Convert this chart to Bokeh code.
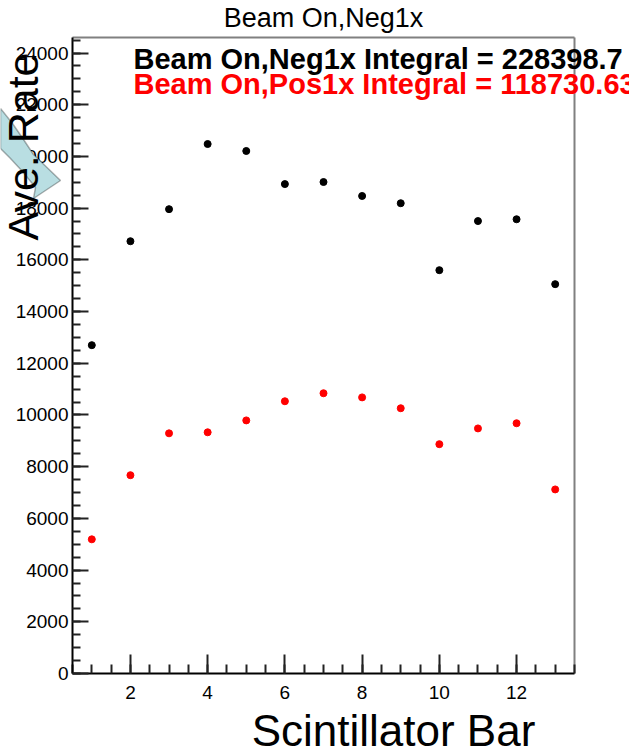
import math
from bokeh.plotting import figure
from bokeh.models import Range1d, FixedTicker, Label, PolyAnnotation
from bokeh.embed import file_html
from bokeh.resources import INLINE

# ---- data ----
bars = list(range(1, 14))
neg1x = [12700, 16720, 17960, 20480, 20210, 18930, 19010, 18470, 18190, 15600, 17500, 17570, 15060]
pos1x = [5190, 7670, 9290, 9330, 9790, 10530, 10840, 10680, 10260, 8870, 9480, 9680, 7120]
title_text = "Beam On,Neg1x"
neg_label = "Beam On,Neg1x Integral = 228398.7"
pos_label = "Beam On,Pos1x Integral = 118730.63"
x_title = "Scintillator Bar"
y_title = "Ave. Rate"
x_ticks = [2, 4, 6, 8, 10, 12]
x_minor = [0.5 * i for i in range(1, 28)]
y_ticks = list(range(0, 24001, 2000))
y_minor = list(range(0, 24601, 500))

# ---- layout: axes box inside the canvas ----
W, H = 629, 755
L, R, T, B = 72, 55, 37, 82          # pixel margins of the axes box
ax_x0, ax_x1 = 0.5, 13.5             # axes box limits (data)
ax_y0, ax_y1 = 0, 24600

sx = (ax_x1 - ax_x0) / (W - L - R)   # data units per pixel
sy = (ax_y1 - ax_y0) / (H - T - B)
xs0, xs1 = ax_x0 - L * sx, ax_x1 + R * sx
ys0, ys1 = ax_y0 - B * sy, ax_y1 + T * sy

def fx(px):
    return xs0 + px * sx

def fy(py):
    return ys1 - py * sy

SHIFT = 0.4  # baseline correction, in em

FONT = "Liberation Sans"

p = figure(width=W, height=H, x_range=Range1d(xs0, xs1), y_range=Range1d(ys0, ys1),
           output_backend="svg", toolbar_location=None,
           min_border_left=0, min_border_right=0, min_border_top=0, min_border_bottom=0)
p.background_fill_color = "white"
p.border_fill_color = "white"
p.outline_line_color = None
p.xgrid.visible = False
p.ygrid.visible = False

for ax in (p.xaxis[0], p.yaxis[0]):
    ax.axis_line_color = "black"
    ax.axis_line_width = 2
    ax.major_tick_line_color = "#222222"
    ax.minor_tick_line_color = "#222222"
    ax.major_tick_line_width = 2
    ax.minor_tick_line_width = 2
    ax.major_tick_out = 0
    ax.minor_tick_out = 0
    ax.major_label_text_font = FONT
    ax.major_label_text_font_size = "19px"
    ax.major_label_text_color = "black"

p.xaxis.fixed_location = ax_y0
p.xaxis.bounds = (ax_x0, ax_x1)
p.xaxis.ticker = FixedTicker(ticks=x_ticks, minor_ticks=x_minor)
p.xaxis.major_tick_in = 19
p.xaxis.minor_tick_in = 9
p.xaxis.major_label_standoff = 12

p.yaxis.fixed_location = ax_x0
p.yaxis.bounds = (ax_y0, ax_y1)
p.yaxis.ticker = FixedTicker(ticks=y_ticks, minor_ticks=y_minor)
p.yaxis.major_tick_in = 16
p.yaxis.minor_tick_in = 8
p.yaxis.major_label_standoff = 4

# top and right edges of the axes box
p.segment(x0=[ax_x0, ax_x1], y0=[ax_y1, ax_y0], x1=[ax_x1, ax_x1], y1=[ax_y1, ax_y1],
          line_color="#808080", line_width=2)

p.scatter(bars, neg1x, size=7, color="black")
p.scatter(bars, pos1x, size=7, color="#ff0000")

def hlabel(text, px, py, fs, **kw):
    p.add_layout(Label(x=fx(px), y=fy(py - SHIFT * fs), text=text,
                       text_baseline="alphabetic", text_font=FONT,
                       text_font_size=f"{fs}px", **kw))

# title & legend texts
hlabel(title_text, 323, 28, 27, text_align="center", text_color="black")
hlabel(neg_label, 133, 70, 29, text_align="left", text_font_style="bold", text_color="black")
hlabel(pos_label, 133, 95, 29, text_align="left", text_font_style="bold", text_color="#ff0000")

# decorative callout arrow
arrow_px = [(0, 108), (12, 123), (23, 139), (33, 154), (60, 180), (33, 198),
            (35, 187), (22, 171), (10, 158), (0, 148)]
p.add_layout(PolyAnnotation(xs=[fx(a) for a, b in arrow_px], ys=[fy(b) for a, b in arrow_px],
                            fill_color="#b9dee2", fill_alpha=1.0,
                            line_color="black", line_width=1.5))

# axis titles
fs_y = 43
p.add_layout(Label(x=fx(40 - SHIFT * fs_y), y=fy(146), text=y_title, angle=math.pi / 2,
                   text_align="center", text_baseline="alphabetic",
                   text_font=FONT, text_font_size=f"{fs_y}px", text_color="black"))
hlabel(x_title, 393, 748, 44, text_align="center", text_color="black")

open("out.html", "w").write(file_html(p, INLINE))
